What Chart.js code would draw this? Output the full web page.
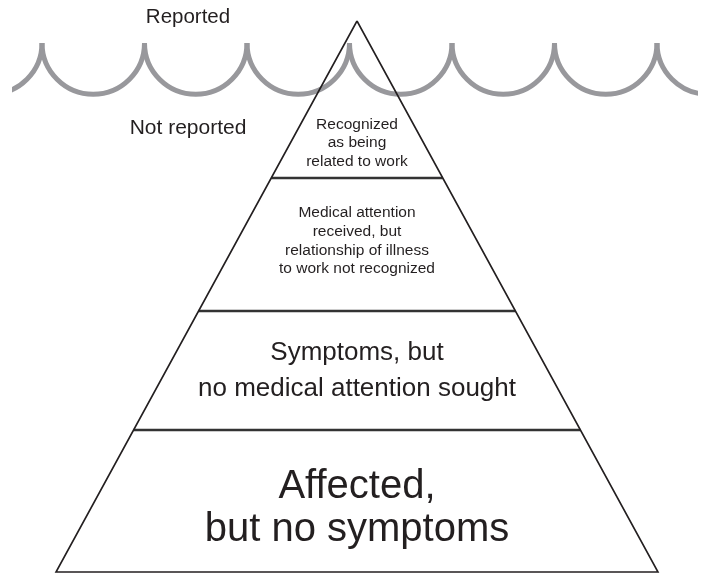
<!DOCTYPE html>
<html>
<head>
<meta charset="utf-8">
<script src="https://cdn.jsdelivr.net/npm/chart.js@4/dist/chart.umd.min.js"></script>
<style>
html, body { margin: 0; padding: 0; background: #fff; }
#wrap { width: 705px; height: 575px; }
</style>
</head>
<body>
<div id="wrap"><canvas id="pyramid" width="705" height="575"></canvas></div>
<script>
// pyramid outline: apex, bottom left, bottom right
const pyramidX = [357, 56, 658]
const pyramidY = [21, 572, 572]

// dividers between the layers, top to bottom
const levelY = [178, 311, 430]

const layerLabels = [
    ['Recognized', 'as being', 'related to work'],
    ['Medical attention', 'received, but', 'relationship of illness', 'to work not recognized'],
    ['Symptoms, but', 'no medical attention sought'],
    ['Affected,', 'but no symptoms']
]

// water line: wave crests and where the line stops
const waveCrestX = [42, 144.5, 247, 349.5, 452, 554.5, 657]
const waveCrestY = 43
const waveEnds = [12, 698]

const surfaceLabels = ['Reported', 'Not reported']

// text placement / sizes
const layerTextY = [143, 241, 371, 508]
const layerFont = [15.5, 15.5, 26, 40]
const layerLineH = [18.5, 18.7, 36, 43]
const surfaceTextX = 188
const surfaceTextY = [17, 128]
const surfaceFont = [20.5, 21]

const ink = '#231f20'
const waveColor = '#98989c'
const fontFamily = '"Liberation Sans", Arial, Helvetica, sans-serif'

function edgeX(y, side) {
    // side 1 = left edge, 2 = right edge
    let t = (y - pyramidY[0]) / (pyramidY[side] - pyramidY[0])
    return pyramidX[0] + (pyramidX[side] - pyramidX[0]) * t
}

let outline = [0, 1, 2, 0].map(i => ({ x: pyramidX[i], y: pyramidY[i] }))

let datasets = [{
    data: outline,
    borderColor: ink,
    borderWidth: 1.6,
    pointRadius: 0,
    showLine: true,
    tension: 0
}]

levelY.forEach(function (y) {
    datasets.push({
        data: [{ x: edgeX(y, 1), y: y }, { x: edgeX(y, 2), y: y }],
        borderColor: '#333333',
        borderWidth: 2.4,
        pointRadius: 0,
        showLine: true
    })
})

const wavePlugin = {
    id: 'wave',
    beforeDatasetsDraw(chart) {
        let ctx = chart.ctx
        let sx = chart.scales.x, sy = chart.scales.y
        let r = (sx.getPixelForValue(waveCrestX[1]) - sx.getPixelForValue(waveCrestX[0])) / 2
        let cy = sy.getPixelForValue(waveCrestY)
        let left = sx.getPixelForValue(waveEnds[0])
        let right = sx.getPixelForValue(waveEnds[1])

        ctx.save()
        ctx.beginPath()
        ctx.rect(left, 0, right - left, chart.height)
        ctx.clip()
        ctx.strokeStyle = waveColor
        ctx.lineWidth = 5
        ctx.lineCap = 'butt'
        // one extra half wave beyond each end, clipped away
        let crests = [waveCrestX[0] - (waveCrestX[1] - waveCrestX[0])].concat(waveCrestX)
        crests.forEach(function (c) {
            let cx = sx.getPixelForValue(c) + r
            ctx.beginPath()
            ctx.arc(cx, cy, r, 0, Math.PI)
            ctx.stroke()
        })
        ctx.restore()
    }
}

const labelPlugin = {
    id: 'labels',
    afterDatasetsDraw(chart) {
        let ctx = chart.ctx
        let sx = chart.scales.x, sy = chart.scales.y
        ctx.save()
        ctx.fillStyle = ink
        ctx.textAlign = 'center'
        ctx.textBaseline = 'middle'

        let midX = sx.getPixelForValue(pyramidX[0])
        layerLabels.forEach(function (lines, i) {
            ctx.font = layerFont[i] + 'px ' + fontFamily
            let cy = sy.getPixelForValue(layerTextY[i])
            let top = cy - (lines.length - 1) * layerLineH[i] / 2
            lines.forEach(function (line, j) {
                ctx.fillText(line, midX, top + j * layerLineH[i])
            })
        })

        surfaceLabels.forEach(function (txt, i) {
            ctx.font = surfaceFont[i] + 'px ' + fontFamily
            ctx.fillText(txt, sx.getPixelForValue(surfaceTextX), sy.getPixelForValue(surfaceTextY[i]))
        })
        ctx.restore()
    }
}

new Chart(document.getElementById('pyramid'), {
    type: 'scatter',
    data: { datasets: datasets },
    options: {
        responsive: false,
        animation: false,
        layout: { padding: 0 },
        plugins: { legend: { display: false }, tooltip: { enabled: false } },
        scales: {
            x: { type: 'linear', min: 0, max: 705, display: false },
            y: { type: 'linear', min: 0, max: 575, reverse: true, display: false }
        }
    },
    plugins: [wavePlugin, labelPlugin]
})
</script>
</body>
</html>
